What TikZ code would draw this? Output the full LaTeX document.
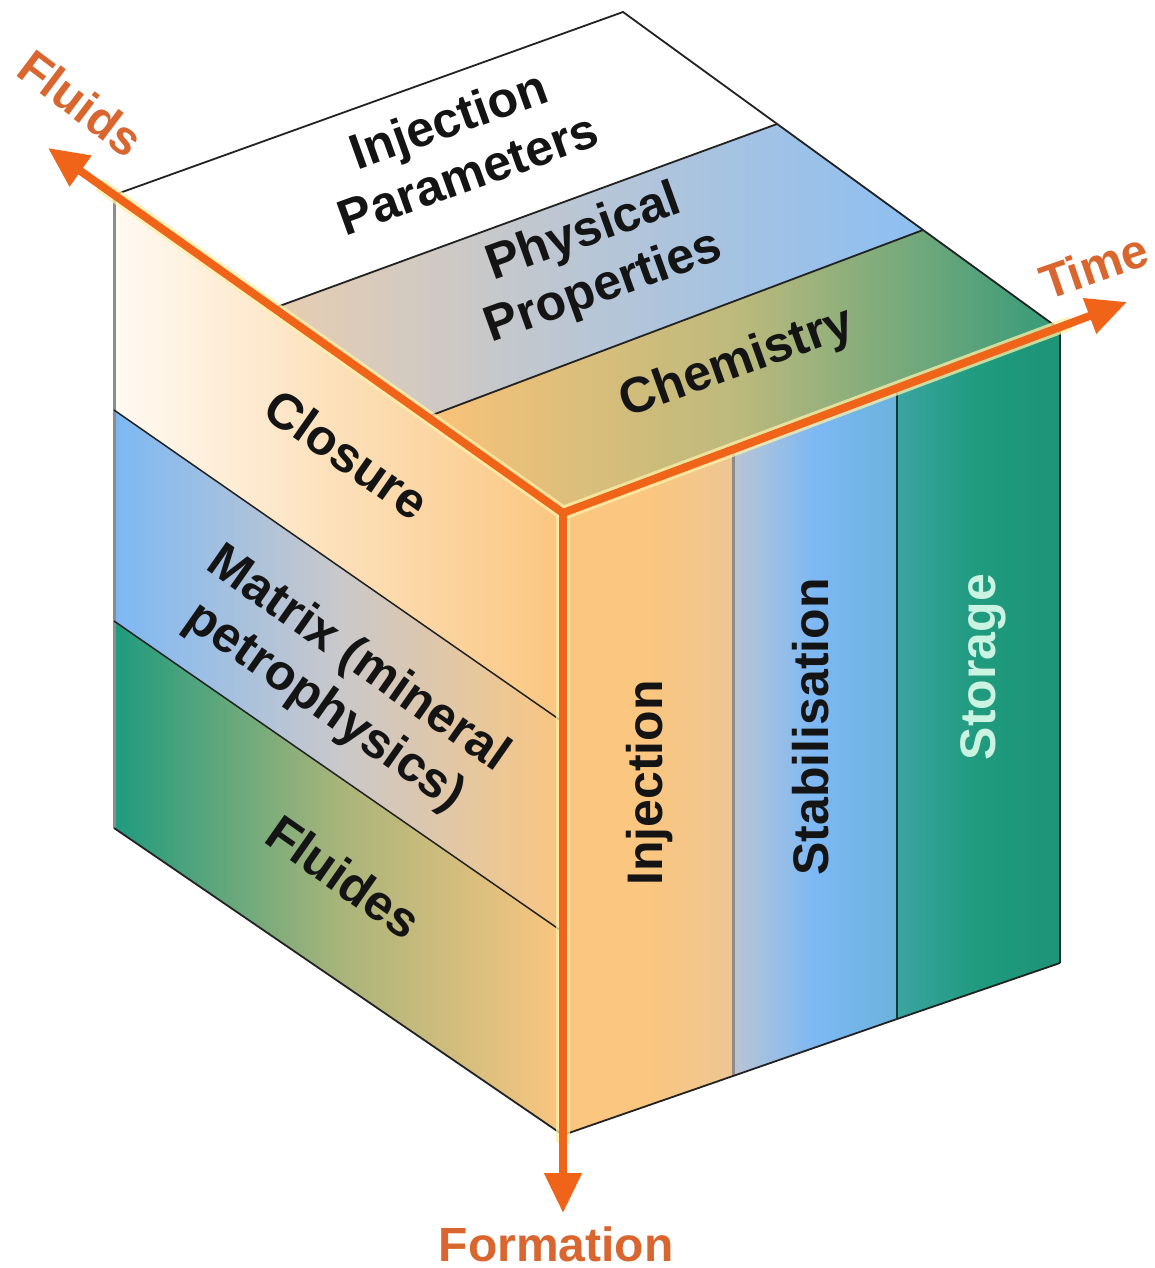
\documentclass[tikz,border=0pt]{standalone}
\usepackage{fontspec}
\setmainfont{Liberation Sans}
\usetikzlibrary{arrows.meta,calc}
\definecolor{axisor}{HTML}{F0641A}
\definecolor{axislbl}{HTML}{D9662E}
\definecolor{halo}{HTML}{FFF0A8}
\definecolor{peach}{HTML}{FAC680}
\definecolor{cream}{HTML}{FFFAF3}
\definecolor{skyb}{HTML}{7DB8F4}
\definecolor{greyb}{HTML}{C9C8CB}
\definecolor{teal}{HTML}{1F9B7E}
\definecolor{olive}{HTML}{A8B47A}
\definecolor{beige}{HTML}{E8CDB0}
\definecolor{lblue}{HTML}{8CBFF2}
\definecolor{chemmid}{HTML}{BBB97C}
\definecolor{chemr}{HTML}{349A7A}
\definecolor{edgec}{HTML}{222222}
\definecolor{mint}{HTML}{CBF3E2}
\begin{document}
\begin{tikzpicture}[x=1pt,y=-1pt,
  edge/.style={draw=edgec,line width=1.8pt},
  lbl/.style={font=\fontsize{50}{58}\selectfont\bfseries,text=black!92,align=center,inner sep=0pt},
  axlbl/.style={font=\fontsize{48}{57}\selectfont\bfseries,text=axislbl,inner sep=0pt},
  axhalo/.style={draw=halo,line width=14pt,opacity=0.75},
  axarrow/.style={draw=axisor,line width=8pt,-{Triangle[length=40pt,width=36pt]}}]
\useasboundingbox (0,0) rectangle (1155,1268);
\fill[white] (0,0) rectangle (1155,1268);
% key points
\coordinate (O) at (563,513);
\coordinate (P1) at (114,195);
\coordinate (P2) at (623,12);
\coordinate (P3) at (1058,328);
\coordinate (a1) at (274,308);
\coordinate (a2) at (777,124);
\coordinate (b1) at (427,417);
\coordinate (b2) at (923,230);
\coordinate (L2) at (114,828);
\coordinate (B) at (563,1135);
\coordinate (c1) at (114,410);
\coordinate (c2) at (563,722);
\coordinate (d1) at (114,621);
\coordinate (d2) at (563,932);
\coordinate (r1t) at (733,449);
\coordinate (r2t) at (897,388);
\coordinate (r3t) at (1060,327);
\coordinate (r1b) at (733,1076);
\coordinate (r2b) at (897,1019);
\coordinate (r3b) at (1060,963);
\coordinate (fluidtip) at (48,148);
\coordinate (timetip) at (1127,302);
\coordinate (formtip) at (563,1213);
% left face bands
\shade[left color=cream,right color=peach] (P1) -- (O) -- (c2) -- (c1) -- cycle;
\shade[left color=skyb,right color=peach,middle color=greyb] (c1) -- (c2) -- (d2) -- (d1) -- cycle;
\shade[left color=teal,right color=peach,middle color=olive] (d1) -- (d2) -- (B) -- (L2) -- cycle;
% top face bands
\fill[white] (P1) -- (P2) -- (a2) -- (a1) -- cycle;
\shade[left color=beige,right color=lblue,middle color=greyb!70!lblue] (a1) -- (a2) -- (b2) -- (b1) -- cycle;
\shade[left color=peach!95!orange,right color=chemr,middle color=chemmid] (b1) -- (b2) -- (P3) -- (O) -- cycle;
% right face bands
\shade[left color=peach,right color=peach!75!greyb,middle color=peach] (O) -- (r1t) -- (r1b) -- (B) -- cycle;
\shade[left color=greyb!80!skyb,right color=skyb!80!teal,middle color=skyb] (r1t) -- (r2t) -- (r2b) -- (r1b) -- cycle;
\shade[left color=teal!70!skyb,right color=teal!95!black,middle color=teal] (r2t) -- (r3t) -- (r3b) -- (r2b) -- cycle;
% edges
\draw[draw=black!45,line width=3pt] (P1) -- (L2);
\draw[edge] (L2) -- (B);
\draw[edge,line width=1.5pt] (c1) -- (c2);
\draw[edge,line width=1.5pt] (d1) -- (d2);
\draw[edge] (P1) -- (P2) -- (P3);
\draw[edge] (a1) -- (a2);
\draw[edge] (b1) -- (b2);
\draw[draw=black!45,line width=3pt] (r1t) -- (r1b);
\draw[draw=teal!40!black,line width=1.8pt] (r2t) -- (r2b);
\draw[draw=teal!30!black,line width=2pt] (r3t) -- (r3b);
\draw[edge] (B) -- (r1b) -- (r2b) -- (r3b);
% axes
\draw[axhalo] (O) -- ($(O)!0.9!(fluidtip)$);
\draw[axhalo] (O) -- ($(O)!0.9!(timetip)$);
\draw[axhalo] (O) -- ($(O)!0.9!(formtip)$);
\draw[axarrow] (O) -- (fluidtip);
\draw[axarrow] (O) -- (timetip);
\draw[axarrow] (O) -- (formtip);
% labels
\node[lbl,rotate=19.8] (injpar) at (458,146) {Injection\\Parameters};
\node[lbl,rotate=19.8] (phys) at (594,261) {Physical\\Properties};
\node[lbl,rotate=19.8,anchor=base] (chem) at (742,376) {Chemistry};
\node[lbl,rotate=-35] (clos) at (347,454) {Closure};
\node[lbl,rotate=-35] (matr) at (341,684) {Matrix (mineral\\petrophysics)};
\node[lbl,rotate=-35] (fluides) at (344,877) {Fluides};
\node[lbl,rotate=90,anchor=base] (inj) at (662,783) {Injection};
\node[lbl,rotate=90,anchor=base] (stab) at (828,727) {Stabilisation};
\node[lbl,rotate=90,anchor=base,text=mint] (stor) at (995,667) {Storage};
\node[axlbl,rotate=-37] (fluids) at (81,103) {Fluids};
\node[axlbl,rotate=19] (time) at (1094,266) {Time};
\node[axlbl,anchor=base] (form) at (556,1261) {Formation};
\end{tikzpicture}
\end{document}
